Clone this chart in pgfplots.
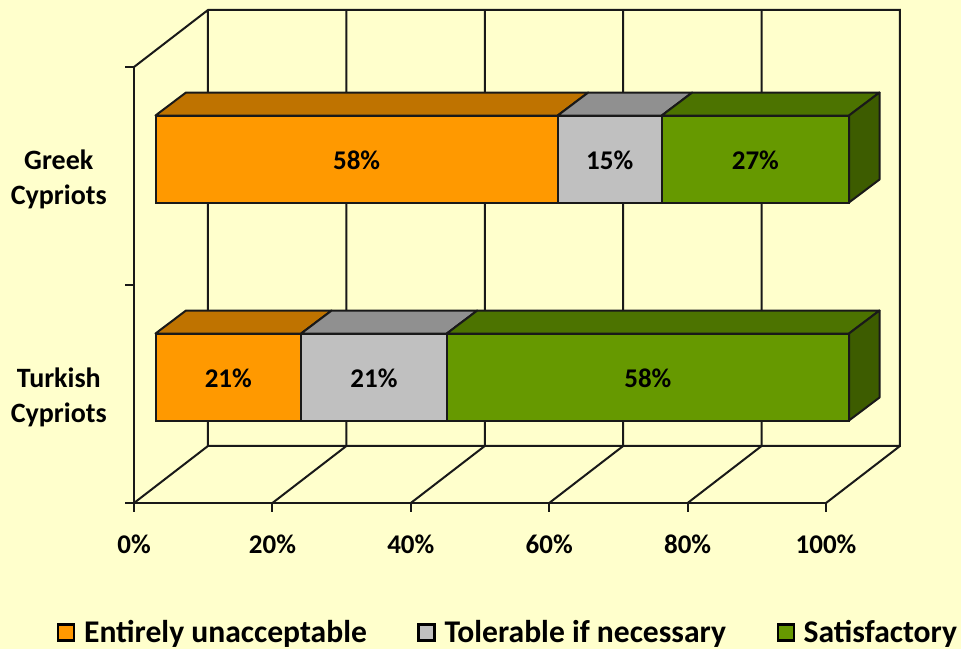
\documentclass[border=0pt]{standalone}
\usepackage{fontspec}
\setmainfont{Carlito}
\usepackage{pgfplots}
\pgfplotsset{compat=1.18}
\definecolor{bgc}{HTML}{FFFFCC}
\definecolor{oran}{HTML}{FF9900}
\definecolor{orant}{HTML}{BF7300}
\definecolor{gry}{HTML}{C0C0C0}
\definecolor{gryt}{HTML}{909090}
\definecolor{grn}{HTML}{669900}
\definecolor{grnt}{HTML}{4C7300}
\definecolor{grns}{HTML}{3D5C00}
\newcommand{\lbl}{\fontsize{27}{35}\selectfont\bfseries}
\newcommand{\lbc}{\fontsize{28}{35}\selectfont\bfseries}
\newcommand{\lbg}{\fontsize{31.6}{36}\selectfont\bfseries}
\pgfplotsset{
  barbox/.style={
    at={(155.5pt,163pt)}, anchor=south west, scale only axis,
    width=693.5pt, height=436pt,
    xmin=0, xmax=100, ymin=-0.5, ymax=1.5,
    clip=false, axis lines=none},
  wall/.style={draw=black!90, line width=2pt, no markers, forget plot},
  face/.style={draw=black!90, line width=2pt, no markers, forget plot, line join=round},
}
\begin{document}
\begin{tikzpicture}
\path[use as bounding box, fill=bgc] (0,0) rectangle (961pt,649pt);
% frame: walls, floor and gridlines
\begin{axis}[
  at={(134pt,146pt)}, anchor=south west, scale only axis,
  width=692pt, height=436pt,
  xmin=0, xmax=100, ymin=0, ymax=2, clip=false,
  axis x line=bottom, axis y line=left,
  axis line style={-, line width=2pt, black!90},
  tick align=outside,
  major tick length=8.5pt,
  tick style={line width=2pt, black!90},
  xtick={0,20,40,60,80,100},
  xticklabels={0\%,20\%,40\%,60\%,80\%,100\%},
  x tick label style={font=\lbl, yshift=-20pt},
  ytick={0,1,2}, yticklabels={},
  extra y ticks={0.5,1.5},
  extra y tick labels={{Turkish\\Cypriots},{Greek\\Cypriots}},
  extra y tick style={major tick length=0pt,
    y tick label style={font=\lbc, align=center, text width=100pt, inner sep=0pt, xshift=-25pt, yshift=-3pt}},
]
\addplot[wall] coordinates {(0,2) (10.69,2.2615) (110.69,2.2615) (110.69,0.2615) (10.69,0.2615) (10.69,2.2615)};
\addplot[wall] coordinates {(0,0) (10.69,0.2615)};
\addplot[wall] coordinates {(20,0) (30.69,0.2615) (30.69,2.2615)};
\addplot[wall] coordinates {(40,0) (50.69,0.2615) (50.69,2.2615)};
\addplot[wall] coordinates {(60,0) (70.69,0.2615) (70.69,2.2615)};
\addplot[wall] coordinates {(80,0) (90.69,0.2615) (90.69,2.2615)};
\addplot[wall] coordinates {(100,0) (110.69,0.2615)};
\end{axis}
% depth faces of the bars
\begin{axis}[barbox]
\addplot[face, fill=orant] coordinates {(0,1.1995) (58,1.1995) (62.4,1.305) (4.4,1.305)} -- cycle;
\addplot[face, fill=gryt] coordinates {(58,1.1995) (73,1.1995) (77.4,1.305) (62.4,1.305)} -- cycle;
\addplot[face, fill=grnt] coordinates {(73,1.1995) (100,1.1995) (104.4,1.305) (77.4,1.305)} -- cycle;
\addplot[face, fill=grns] coordinates {(100,1.1995) (104.4,1.305) (104.4,0.906) (100,0.8005)} -- cycle;
\addplot[face, fill=orant] coordinates {(0,0.1995) (21,0.1995) (25.4,0.305) (4.4,0.305)} -- cycle;
\addplot[face, fill=gryt] coordinates {(21,0.1995) (42,0.1995) (46.4,0.305) (25.4,0.305)} -- cycle;
\addplot[face, fill=grnt] coordinates {(42,0.1995) (100,0.1995) (104.4,0.305) (46.4,0.305)} -- cycle;
\addplot[face, fill=grns] coordinates {(100,0.1995) (104.4,0.305) (104.4,-0.094) (100,-0.1995)} -- cycle;
\end{axis}
% the bars
\begin{axis}[barbox,
  xbar stacked, bar width=87pt,
  visualization depends on={rawx \as \myx},
  /pgf/number format/assume math mode=true,
  nodes near coords={\pgfmathprintnumber{\myx}\%},
  every node near coord/.append style={font=\lbl, text=black, anchor=center, yshift=-1.5pt},
  legend columns=3,
  legend style={draw=none, fill=none, inner sep=0pt, outer sep=0pt,
     at={(-0.142,-0.336)}, anchor=west, font=\lbg,
     /tikz/every even column/.style={column sep=50.5pt},
     nodes={inner xsep=0pt, inner ysep=0pt}},
]
\pgfplotsset{legend image code/.code={\draw[#1, draw=black, line width=2.2pt] (0.5pt,-8pt) rectangle (16.5pt,8pt); \path (25.5pt,0pt);}}
\addplot[fill=oran, draw=black!90, line width=2pt] coordinates {(21,0) (58,1)};
\addplot[fill=gry, draw=black!90, line width=2pt] coordinates {(21,0) (15,1)};
\addplot[fill=grn, draw=black!90, line width=2pt] coordinates {(58,0) (27,1)};
\legend{Entirely unacceptable, Tolerable if necessary, Satisfactory}
\end{axis}
\end{tikzpicture}
\end{document}
